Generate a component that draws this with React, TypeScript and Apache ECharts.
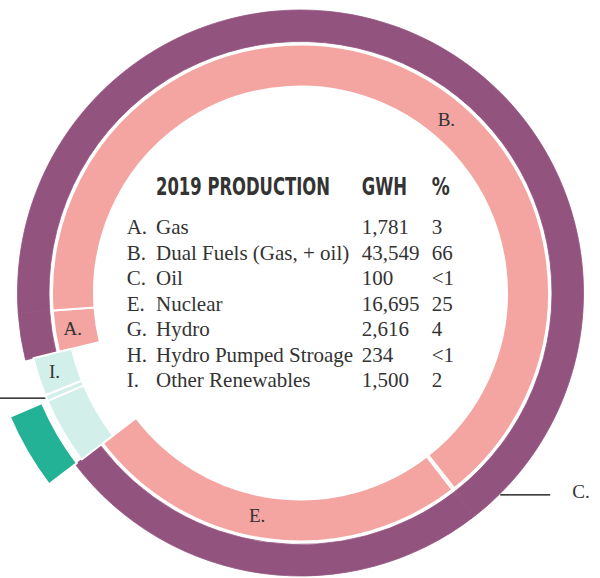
import { useEffect, useRef } from 'react';
import * as echarts from 'echarts';

// ---- data ----
const CATEGORIES = ['A', 'B', 'C', 'E', 'G', 'H', 'I'];
const NAMES = ['Gas', 'Dual Fuels (Gas, + oil)', 'Oil', 'Nuclear', 'Hydro', 'Hydro Pumped Stroage', 'Other Renewables'];
const GWH = [1781, 43549, 100, 16695, 2616, 234, 1500];
const PERCENT_LABELS = ['3', '66', '<1', '25', '4', '<1', '2'];
const RENEWABLE = [false, false, false, false, true, true, true];
const TITLE = '2019 PRODUCTION';
const HEADERS = ['GWH', '%'];

// ---- styles ----
const PURPLE = '#93537F';
const PINK = '#F4A5A1';
const LIGHT_TEAL = '#D3EFEA';
const DARK_TEAL = '#24B297';
const TEXT = '#333333';
const SERIF = '"Liberation Serif", "Times New Roman", serif';
const CONDENSED = '"DejaVu Sans Condensed", "DejaVu Sans", sans-serif';

const CX = 300.5;
const CY = 293;
const START = 193.7;
const LABEL_ANGLE: Record<string, number> = { B: 40, E: 191 };
const C_LINE_ANGLE = 135.3;

const hidden = { color: 'rgba(0,0,0,0)', borderWidth: 0 };
const rad = (a: number) => (a * Math.PI) / 180;

function baseSeries(radius: number[]) {
  return {
    type: 'pie',
    center: [CX, CY],
    radius,
    startAngle: START,
    clockwise: true,
    avoidLabelOverlap: false,
    silent: true,
    emphasis: { disabled: true },
    label: {
      show: false,
      formatter: '{b}.',
      fontFamily: SERIF,
      fontSize: 19,
      color: TEXT,
    },
    labelLine: { show: false },
  };
}

export default function App() {
  const ref = useRef<HTMLDivElement>(null);
  useEffect(() => {
    if (!ref.current) return;
    const chart = echarts.init(ref.current, undefined, { renderer: 'svg' });

    const pinkSeries = {
      ...baseSeries([206.5, 248.5]),
      data: CATEGORIES.map((c, i) => ({
        name: c,
        value: GWH[i],
        itemStyle: RENEWABLE[i] ? hidden : { color: PINK, borderColor: '#fff', borderWidth: 2 },
        label: { show: ['A', 'B', 'E'].includes(c), position: 'inside' },
      })),
      labelLayout: (p: any) => {
        const a = LABEL_ANGLE[CATEGORIES[p.dataIndex]];
        if (a == null) return {};
        const r = 227;
        return { x: CX + r * Math.sin(rad(a)), y: CY - r * Math.cos(rad(a)) };
      },
    };

    const purpleSeries = {
      ...baseSeries([251.5, 283]),
      data: CATEGORIES.map((c, i) => ({
        name: c,
        value: GWH[i],
        itemStyle: RENEWABLE[i] ? hidden : { color: PURPLE, borderColor: PURPLE, borderWidth: 0.8 },
        label: c === 'C' ? { show: true, position: 'outside', distanceToLabelLine: 22 } : { show: false },
        labelLine: c === 'C'
          ? { show: true, length: 0, length2: 50, lineStyle: { color: '#000', width: 1.2 } }
          : { show: false },
      })),
      labelLayout: (p: any) => {
        if (CATEGORIES[p.dataIndex] !== 'C') return {};
        const r = 284;
        const px = CX + r * Math.sin(rad(C_LINE_ANGLE));
        const py = CY - r * Math.cos(rad(C_LINE_ANGLE));
        return {
          x: px + 72,
          y: py - 3,
          align: 'left',
          verticalAlign: 'middle',
          labelLinePoints: [[px, py], [px, py], [px + 50, py]],
        };
      },
    };

    const lightTealSeries = {
      ...baseSeries([235.5, 275]),
      data: CATEGORIES.map((c, i) => ({
        name: c,
        value: GWH[i],
        itemStyle: RENEWABLE[i] ? { color: LIGHT_TEAL, borderColor: '#fff', borderWidth: 2 } : hidden,
        label: c === 'I'
          ? { show: true, position: 'inside' }
          : c === 'H'
          ? { show: true, position: 'outside', distanceToLabelLine: 0, formatter: ' ' }
          : { show: false },
        labelLine: c === 'H'
          ? { show: true, length: 0, length2: 52, lineStyle: { color: '#000', width: 1.2 } }
          : { show: false },
      })),
    };

    const darkTealSeries = {
      ...baseSeries([281, 316]),
      data: CATEGORIES.map((c, i) => ({
        name: c,
        value: GWH[i],
        itemStyle: c === 'G' ? { color: DARK_TEAL, borderColor: '#fff', borderWidth: 2 } : hidden,
      })),
    };

    const rowY0 = 227;
    const rowStep = 25.55;
    const cols = { letter: 126.7, name: 156, gwh: 361.7, pct: 431.7 };
    const headFont = `bold 25px ${CONDENSED}`;
    const graphic: any[] = [
      {
        type: 'text', x: cols.name, y: 186, scaleX: 0.73,
        style: { text: TITLE, font: headFont, fill: TEXT, align: 'left', verticalAlign: 'middle' },
      },
      {
        type: 'text', x: cols.gwh, y: 186, scaleX: 0.73,
        style: { text: HEADERS[0], font: headFont, fill: TEXT, align: 'left', verticalAlign: 'middle' },
      },
      {
        type: 'text', x: cols.pct, y: 186, scaleX: 0.8,
        style: { text: HEADERS[1], font: headFont, fill: TEXT, align: 'left', verticalAlign: 'middle' },
      },
    ];
    CATEGORIES.forEach((c, i) => {
      const y = rowY0 + i * rowStep;
      const cells: [number, string][] = [
        [cols.letter, c + '.'],
        [cols.name, NAMES[i]],
        [cols.gwh, GWH[i].toLocaleString('en-US')],
        [cols.pct, PERCENT_LABELS[i]],
      ];
      cells.forEach(([x, t]) => {
        graphic.push({
          type: 'text', x, y,
          style: { text: t, font: `21px ${SERIF}`, fill: TEXT, align: 'left', verticalAlign: 'middle' },
        });
      });
    });

    chart.setOption({
      animation: false,
      backgroundColor: '#fff',
      series: [pinkSeries, purpleSeries, lightTealSeries, darkTealSeries],
      graphic,
    });
    return () => chart.dispose();
  }, []);
  return <div ref={ref} style={{ position: 'fixed', left: 0, top: 0, width: 600, height: 578 }} />;
}
